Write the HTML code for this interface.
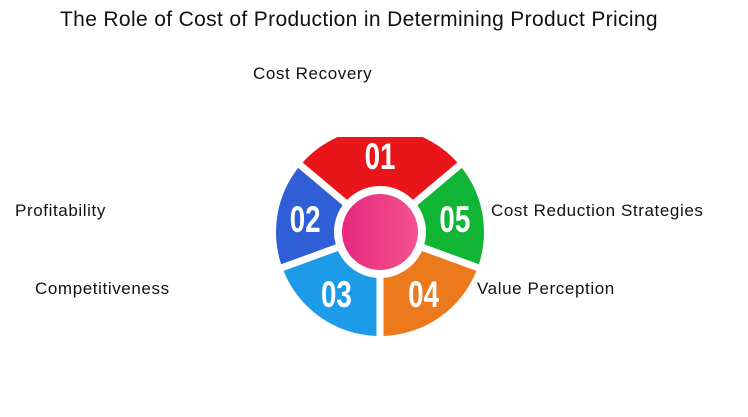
<!DOCTYPE html>
<html><head><meta charset="utf-8"><style>
body{margin:0;width:748px;height:417px;background:#fff;overflow:hidden;font-family:"Liberation Sans",sans-serif;position:relative}
.t{position:absolute;white-space:nowrap;color:#111;letter-spacing:0.6px}
</style></head><body>
<div class="t" style="left:60px;top:8px;font-size:21px;letter-spacing:0.35px">The Role of Cost of Production in Determining Product Pricing</div>
<div class="t" style="left:253px;top:64px;font-size:17px">Cost Recovery</div>
<div class="t" style="left:15px;top:201px;font-size:17px">Profitability</div>
<div class="t" style="left:491px;top:201px;font-size:17px">Cost Reduction Strategies</div>
<div class="t" style="left:35px;top:279px;font-size:17px">Competitiveness</div>
<div class="t" style="left:477px;top:279px;font-size:17px">Value Perception</div>
<svg id="d" width="748" height="417" style="position:absolute;left:0;top:0">
<defs>
<linearGradient id="pk" x1="0" x2="1"><stop offset="0" stop-color="#e8287f"/><stop offset="1" stop-color="#f2528c"/></linearGradient>
<clipPath id="cp"><rect x="0" y="137" width="748" height="300"/></clipPath>
</defs>
</svg>
<script>
const labels=['01','05','04','03','02'];
const starts=[-140,-40,20,90,160];
const ends=[-40,20,90,160,220];
const colors=['#e8161b','#10b536','#ec7a1d','#1e9be8','#2f5ed6'];
const svg=document.getElementById('d');
const cx=380,cy=232,R=104,r=46,NS='http://www.w3.org/2000/svg';
function pt(a,rad){a=a*Math.PI/180;return [cx+rad*Math.cos(a),cy+rad*Math.sin(a)];}
const g=document.createElementNS(NS,'g');g.setAttribute('clip-path','url(#cp)');svg.appendChild(g);
for(let i=0;i<labels.length;i++){
 const gap=3.5;
 const a0=starts[i]+gap*180/Math.PI/R*1,a1=ends[i]-gap*180/Math.PI/R;
 const b0=starts[i]+gap*180/Math.PI/r,b1=ends[i]-gap*180/Math.PI/r;
 const p1=pt(a0,R),p2=pt(a1,R),p3=pt(b1,r),p4=pt(b0,r);
 const p=document.createElementNS(NS,'path');
 p.setAttribute('d',`M${p1}A${R},${R} 0 0 1 ${p2}L${p3}A${r},${r} 0 0 0 ${p4}Z`);
 p.setAttribute('fill',colors[i]);
 
 
 g.appendChild(p);
 const m=pt((starts[i]+ends[i])/2,76);
 const tx=document.createElementNS(NS,'text');
 tx.setAttribute('x',m[0]);tx.setAttribute('y',m[1]+13);
 tx.setAttribute('text-anchor','middle');tx.setAttribute('fill','#fff');
 tx.setAttribute('font-size','37');tx.setAttribute('font-weight','bold');
 tx.setAttribute('font-family','Liberation Sans Narrow, Liberation Sans, sans-serif');
 tx.setAttribute('transform',`translate(${m[0]},0) scale(0.75,1) translate(${-m[0]},0)`);
 tx.textContent=labels[i];
 
 
 svg.appendChild(tx);
}
const c=document.createElementNS(NS,'circle');
c.setAttribute('cx',cx);c.setAttribute('cy',cy);c.setAttribute('r',38);c.setAttribute('fill','url(#pk)');


svg.appendChild(c);
</script>
</body></html>
